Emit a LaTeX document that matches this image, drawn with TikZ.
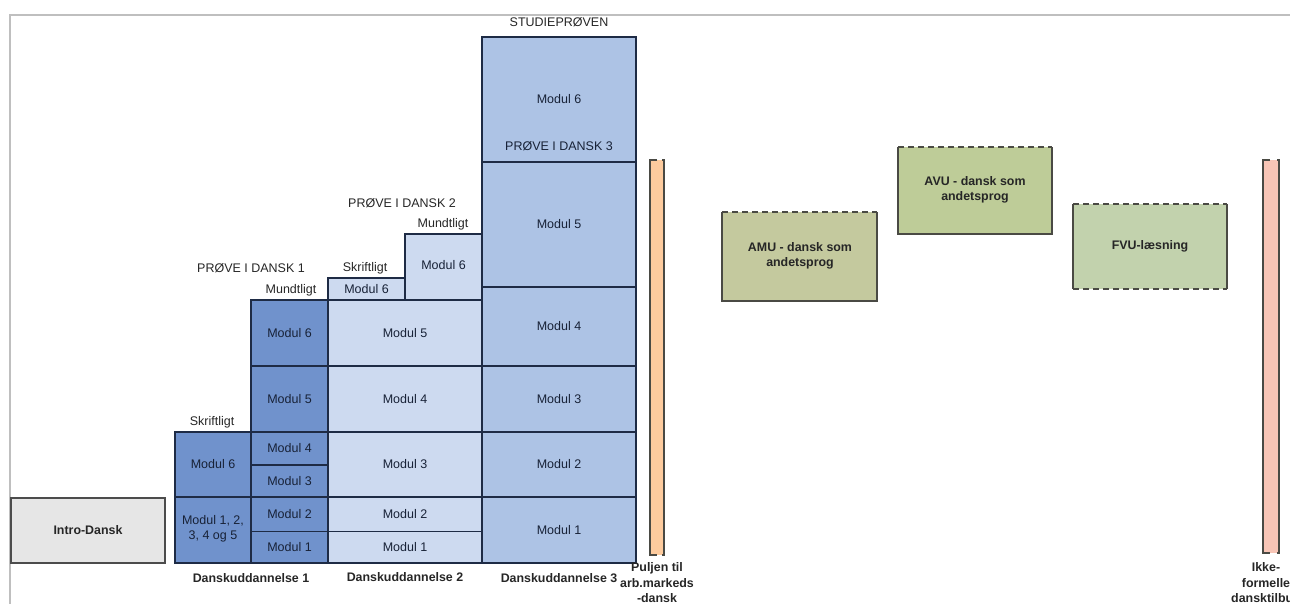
\documentclass[tikz,border=0pt]{standalone}
\usepackage{fontspec}
\setmainfont{Liberation Sans}
\usetikzlibrary{calc}

\definecolor{duone}{HTML}{7092CC}
\definecolor{dutwo}{HTML}{CDDAF0}
\definecolor{duthree}{HTML}{ADC3E5}
\definecolor{navy}{HTML}{1E2B45}
\definecolor{introgray}{HTML}{E6E6E6}
\definecolor{peach}{HTML}{FDCB9E}
\definecolor{rose}{HTML}{F8C5B6}
\definecolor{amugreen}{HTML}{C4C99E}
\definecolor{avugreen}{HTML}{BECC98}
\definecolor{fvugreen}{HTML}{C2D2AD}
\definecolor{boxedge}{HTML}{4A4A44}

\begin{document}
\begin{tikzpicture}[x=1pt, y=-1pt,
  every node/.style={font=\fontsize{12.5}{15}\selectfont, inner sep=0pt},
  mod/.style={draw=navy, line width=1.2pt},
  txt/.style={text=navy!80!black},
  lbl/.style={text=black!85},
  bold/.style={font=\fontsize{12.4}{15.5}\selectfont\bfseries, align=center, text=black!85},
  solid side/.style={draw=boxedge, line width=1.4pt},
  dash side/.style={draw=boxedge, line width=1.4pt, dash pattern=on 6pt off 4pt}]
\useasboundingbox (0,0) rectangle (1290,603);

\draw [black!25, line width=2pt] (10,650) -- (10,15) -- (1300,15);

\draw [fill=introgray, draw=black!70, line width=1.4pt] (11,498) rectangle (165,563);
\node [bold] (intro) at (88,530.5) {Intro-Dansk};

\draw [mod, fill=duone] (175,497) rectangle (251,563);
\draw [mod, fill=duone] (175,432) rectangle (251,497);
\draw [mod, fill=duone] (251,531.5) rectangle (328,563);
\draw [mod, fill=duone] (251,497) rectangle (328,531.5);
\draw [mod, fill=duone] (251,465) rectangle (328,497);
\draw [mod, fill=duone] (251,432) rectangle (328,465);
\draw [mod, fill=duone] (251,366) rectangle (328,432);
\draw [mod, fill=duone] (251,300) rectangle (328,366);
\node [txt, align=center] (d1a) at (213,529) {Modul 1, 2,\\3, 4 og 5};
\node [txt] (d1b) at (213,464.5) {Modul 6};
\node [txt] (d1m1) at (289.5,547) {Modul 1};
\node [txt] (d1m2) at (289.5,514) {Modul 2};
\node [txt] (d1m3) at (289.5,481) {Modul 3};
\node [txt] (d1m4) at (289.5,448.5) {Modul 4};
\node [txt] (d1m5) at (289.5,399) {Modul 5};
\node [txt] (d1m6) at (289.5,333) {Modul 6};
\node [lbl] (d1s) at (212,422) {Skriftligt};
\node [lbl] (d1u) at (291,290) {Mundtligt};
\node [lbl] (d1p) at (251,268) {PRØVE I DANSK 1};

\draw [mod, fill=dutwo] (328,531.5) rectangle (482,563);
\draw [mod, fill=dutwo] (328,497) rectangle (482,531.5);
\draw [mod, fill=dutwo] (328,432) rectangle (482,497);
\draw [mod, fill=dutwo] (328,366) rectangle (482,432);
\draw [mod, fill=dutwo] (328,300) rectangle (482,366);
\draw [mod, fill=dutwo] (328,278) rectangle (405,300);
\draw [mod, fill=dutwo] (405,234) rectangle (482,300);
\node [txt] (d2m1) at (405,547) {Modul 1};
\node [txt] (d2m2) at (405,514) {Modul 2};
\node [txt] (d2m3) at (405,464.5) {Modul 3};
\node [txt] (d2m4) at (405,399) {Modul 4};
\node [txt] (d2m5) at (405,333) {Modul 5};
\node [txt] (d2s6) at (366.5,289) {Modul 6};
\node [txt] (d2u6) at (443.5,265) {Modul 6};
\node [lbl] (d2s) at (365,268) {Skriftligt};
\node [lbl] (d2u) at (443,224) {Mundtligt};
\node [lbl] (d2p) at (402,203) {PRØVE I DANSK 2};

\draw [mod, fill=duthree] (482,497) rectangle (636,563);
\draw [mod, fill=duthree] (482,432) rectangle (636,497);
\draw [mod, fill=duthree] (482,366) rectangle (636,432);
\draw [mod, fill=duthree] (482,287) rectangle (636,366);
\draw [mod, fill=duthree] (482,162) rectangle (636,287);
\draw [mod, fill=duthree] (482,37) rectangle (636,162);
\node [txt] (d3m1) at (559,530) {Modul 1};
\node [txt] (d3m2) at (559,464.5) {Modul 2};
\node [txt] (d3m3) at (559,399) {Modul 3};
\node [txt] (d3m4) at (559,326.5) {Modul 4};
\node [txt] (d3m5) at (559,224.5) {Modul 5};
\node [txt] (d3m6) at (559,99) {Modul 6};
\node [txt] (d3p) at (559,146) {PRØVE I DANSK 3};
\node [lbl] (studie) at (559,22) {STUDIEPRØVEN};

\node [bold] (du1) at (251,578) {Danskuddannelse 1};
\node [bold] (du2) at (405,577) {Danskuddannelse 2};
\node [bold] (du3) at (559,578) {Danskuddannelse 3};

\fill [peach] (650,160) rectangle (664,555);
\draw [solid side] (657,160) -- (650,160) -- (650,555) -- (657,555);
\draw [solid side] (662,160) -- (664,160) -- (664,555) -- (662,555);
\node [bold] (pulje) at (657,583) {Puljen til\\arb.markeds\\-dansk};

\fill [rose] (1263,160) rectangle (1279,553);
\draw [solid side] (1270,160) -- (1263,160) -- (1263,553) -- (1270,553);
\draw [solid side] (1277,160) -- (1279,160) -- (1279,553) -- (1277,553);
\node [bold] (ikke) at (1266,583) {Ikke-\\formelle\\dansktilbud};

\fill [amugreen] (722,212) rectangle (877,301);
\draw [solid side] (722,212) -- (722,301) -- (877,301) -- (877,212);
\draw [dash side] (722,212) -- (877,212);
\node [bold] (amu) at (800,256) {AMU - dansk som\\andetsprog};

\fill [avugreen] (898,147) rectangle (1052,234);
\draw [solid side] (898,147) -- (898,234) -- (1052,234) -- (1052,147);
\draw [dash side] (898,147) -- (1052,147);
\node [bold] (avu) at (975,190) {AVU - dansk som\\andetsprog};

\fill [fvugreen] (1073,204) rectangle (1227,289);
\draw [solid side] (1073,204) -- (1073,289);
\draw [solid side] (1227,204) -- (1227,289);
\draw [dash side] (1073,204) -- (1227,204);
\draw [dash side] (1073,289) -- (1227,289);
\node [bold] (fvu) at (1150,246) {FVU-læsning};
\end{tikzpicture}
\end{document}
